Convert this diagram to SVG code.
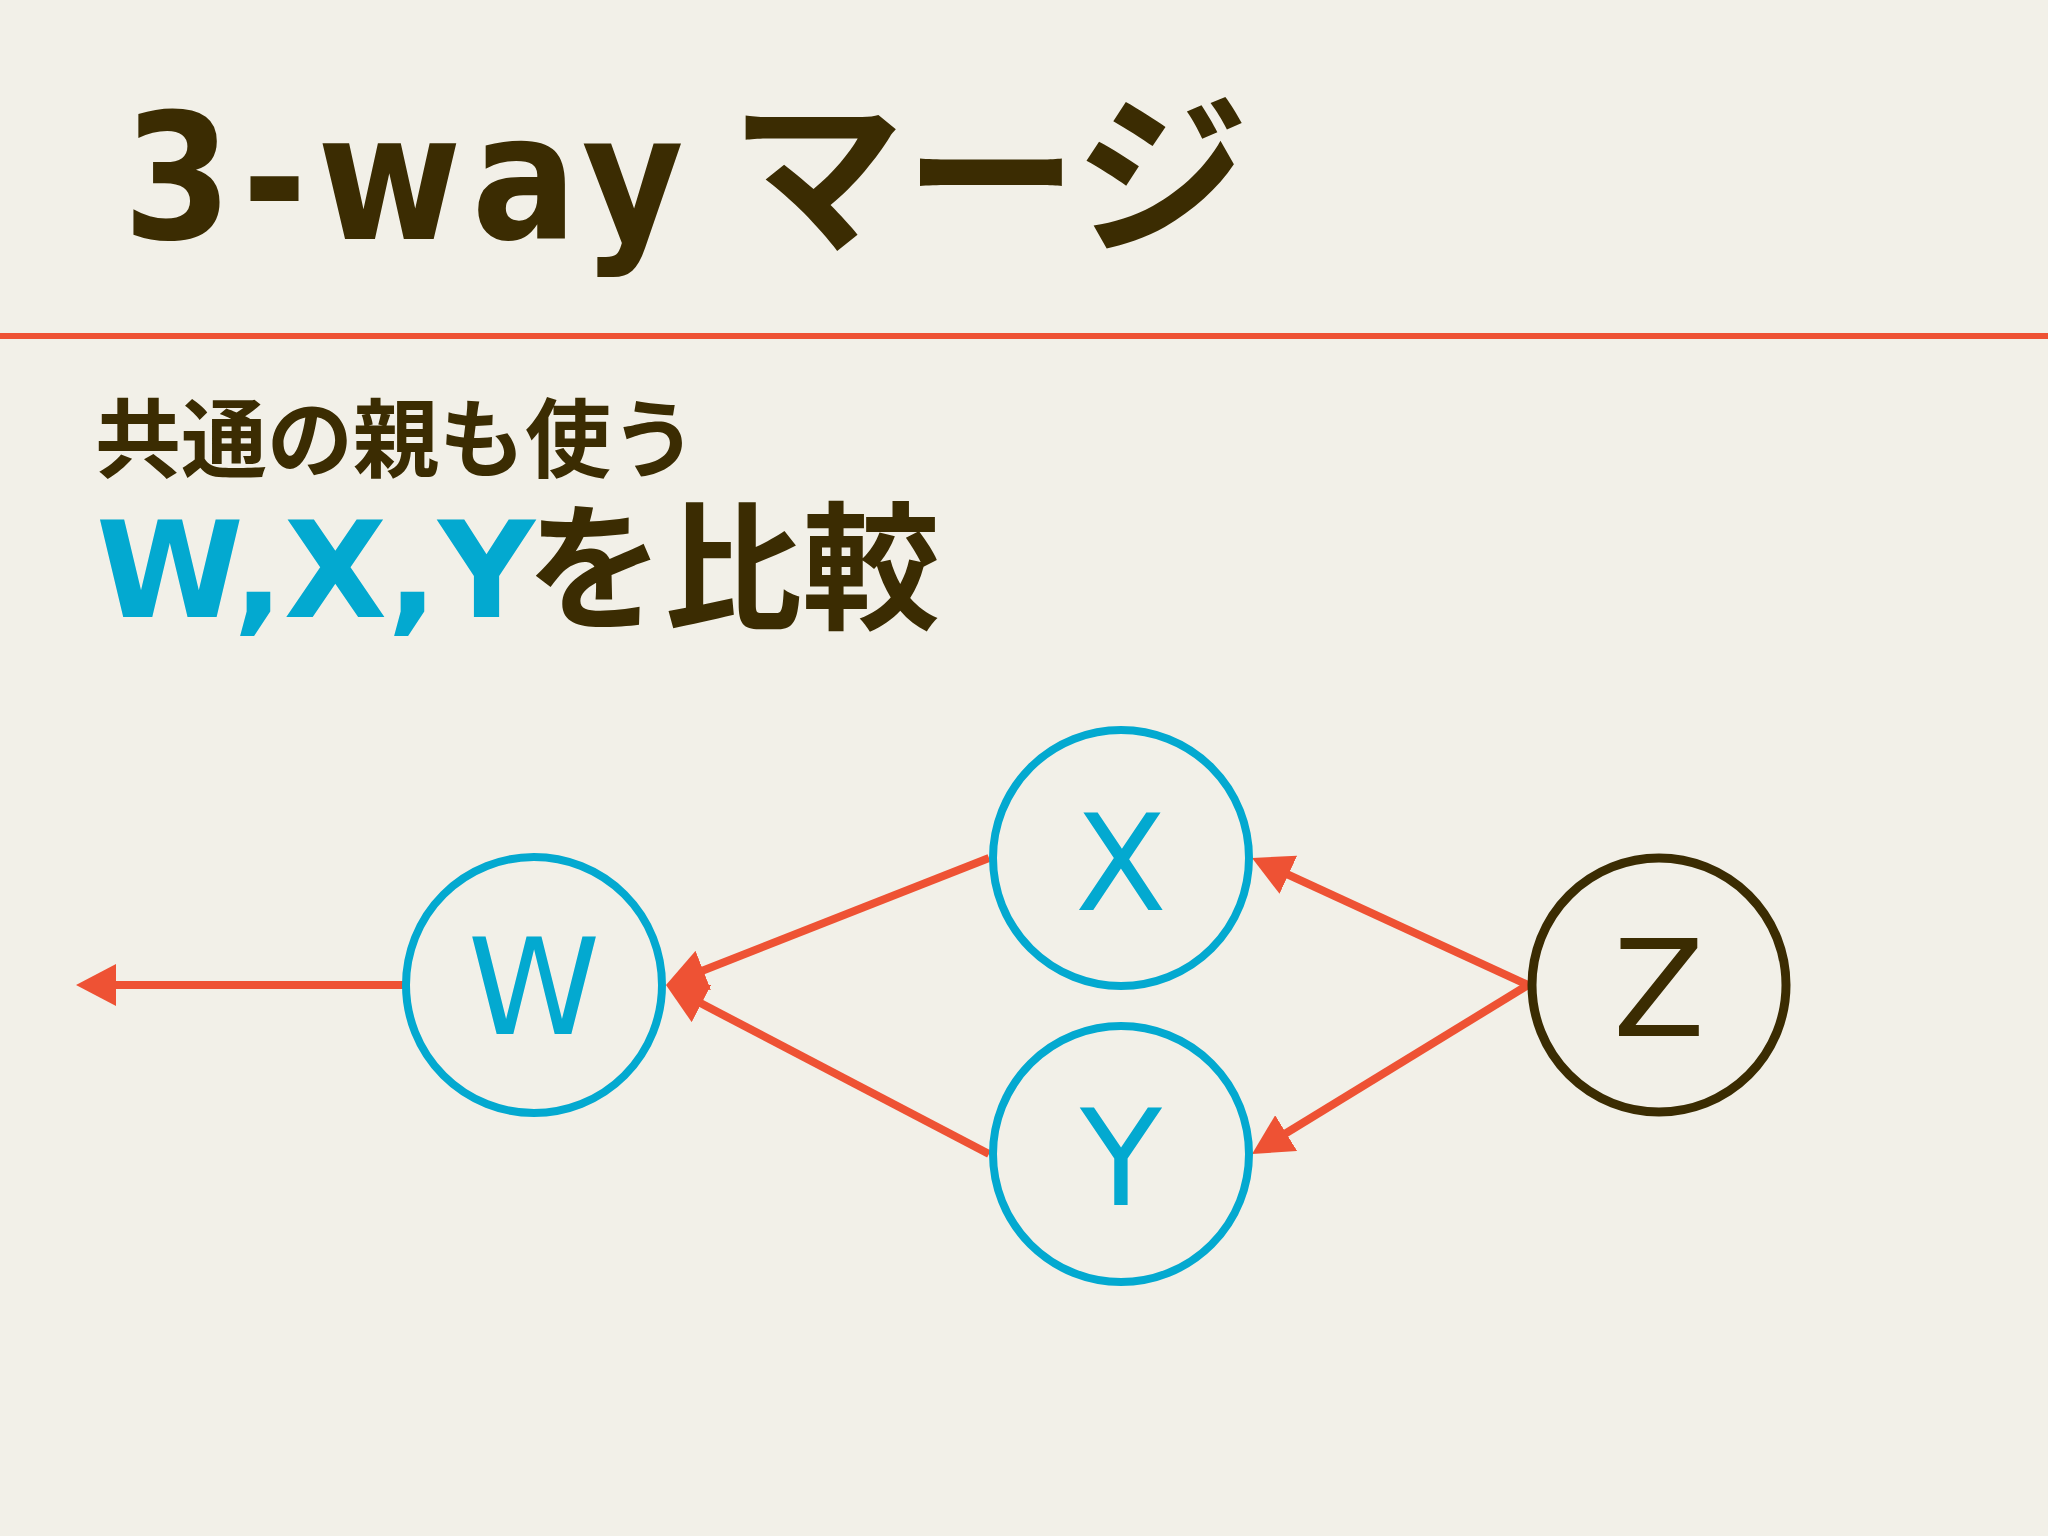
<svg xmlns="http://www.w3.org/2000/svg" width="2048" height="1536" viewBox="0 0 2048 1536">
<defs>
<style>
.bg{fill:#F2F0E8}
.title{font-family:"Noto Sans CJK JP","Noto Sans",sans-serif;font-weight:bold;fill:#3B2C02}
.lat{font-family:"DejaVu Sans","Noto Sans CJK JP",sans-serif;font-weight:bold}
.blue{fill:#03A9D0}
.node{fill:none;stroke-width:8}
.nb{stroke:#03A9D0}
.nd{stroke:#3B2C02;stroke-width:9}
.lbl{font-family:"DejaVu Sans","Noto Sans",sans-serif;font-size:134px;text-anchor:middle}
.edge{stroke:#EE5234;stroke-width:8;fill:none;marker-end:url(#arr)}
</style>
<marker id="arr" markerUnits="userSpaceOnUse" viewBox="0 0 40 42" markerWidth="40" markerHeight="42" refX="20" refY="21" orient="auto">
<path d="M0,0 L40,21 L0,42 z" fill="#EE5234"/>
</marker>
</defs>
<rect class="bg" x="0" y="0" width="2048" height="1536"/>
<g id="header">
<text class="title lat" font-size="174" font-stretch="condensed" letter-spacing="10" x="123" y="239">3-way</text>
<text class="title" font-size="174" x="730" y="239">マージ</text>
<rect x="0" y="333" width="2048" height="6" fill="#EE5234"/>
</g>
<g id="body-text">
<text class="title" font-size="86" x="95" y="471">共通の親も使う</text>
<text class="title lat blue" font-size="134" x="96" y="617">W,X,Y</text>
<text class="title" font-size="138" x="526" y="618">を比較</text>
</g>
<g id="connectors">
<line class="edge" x1="403" y1="985" x2="96" y2="985"/>
<line class="edge" x1="989" y1="858" x2="684.6" y2="977.7"/>
<line class="edge" x1="989" y1="1154" x2="683.7" y2="994.3"/>
<line class="edge" x1="1528" y1="985" x2="1270.2" y2="866.4"/>
<line class="edge" x1="1528" y1="985" x2="1269.1" y2="1143.6"/>
</g>
<g id="node-W">
<circle class="node nb" cx="534" cy="985" r="128"/>
<text class="lbl blue" x="534" y="1034">W</text>
</g>
<g id="node-X">
<circle class="node nb" cx="1121" cy="858" r="128"/>
<text class="lbl blue" x="1121" y="910">X</text>
</g>
<g id="node-Y">
<circle class="node nb" cx="1121" cy="1154" r="128"/>
<text class="lbl blue" x="1121" y="1205">Y</text>
</g>
<g id="node-Z">
<circle class="node nd" cx="1659" cy="985" r="127"/>
<text class="lbl" fill="#3B2C02" x="1659" y="1036">Z</text>
</g>
</svg>
